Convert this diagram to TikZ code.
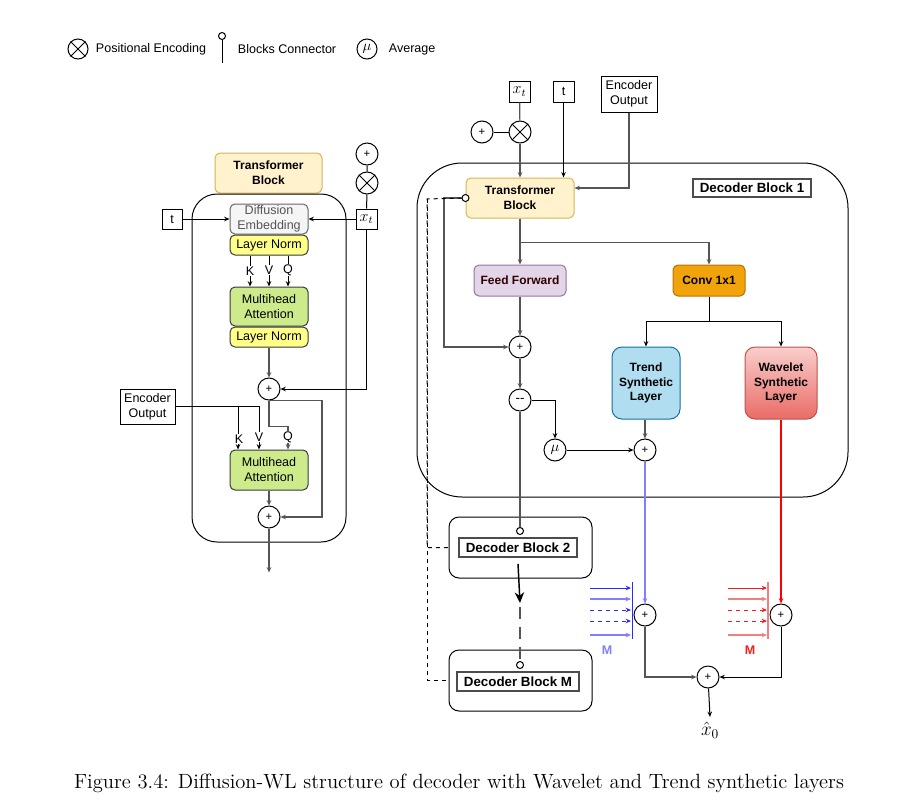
\documentclass[tikz,border=0pt]{standalone}
\usepackage{fontspec}
\setsansfont{Liberation Sans}
\usetikzlibrary{arrows.meta,calc}

\definecolor{tbfill}{HTML}{FFF2CC}
\definecolor{tbline}{HTML}{D6B656}
\definecolor{defill}{HTML}{F5F5F5}
\definecolor{deline}{HTML}{666666}
\definecolor{detext}{HTML}{555555}
\definecolor{lnfill}{HTML}{FFFF88}
\definecolor{mhfill}{HTML}{CDEB8B}
\definecolor{boxline}{HTML}{36393D}
\definecolor{fffill}{HTML}{E1D5E7}
\definecolor{ffline}{HTML}{9673A6}
\definecolor{fftext}{HTML}{330000}
\definecolor{convfill}{HTML}{F0A30A}
\definecolor{convline}{HTML}{BD7000}
\definecolor{trfill}{HTML}{B1DDF0}
\definecolor{trline}{HTML}{10739E}
\definecolor{wavtop}{HTML}{F8CECC}
\definecolor{wavbot}{HTML}{EA6B66}
\definecolor{wavline}{HTML}{B85450}
\definecolor{wire}{HTML}{555555}
\definecolor{blueM}{HTML}{2A2AFF}
\definecolor{lblueM}{HTML}{7F7FFF}
\definecolor{redM}{HTML}{FF1A1A}
\definecolor{lredM}{HTML}{F08080}

\tikzset{
  wh/.style 2 args={minimum width=#1*0.75pt, minimum height=#2*0.75pt},
  arr/.style={-{Stealth[length=4pt,width=3.4pt]}},
  bigarr/.style={-{Stealth[length=8pt,width=7pt]}, line width=1.1pt},
  wired/.style={draw=wire, line width=0.9pt},
  box/.style={draw, rounded corners=3.75pt, inner sep=0.5pt, align=center, line width=0.75pt},
  tbbox/.style={box, fill=tbfill, draw=tbline, font=\sffamily\bfseries\fontsize{9}{11.25}\selectfont},
  debox/.style={box, fill=defill, draw=deline, text=detext},
  lnbox/.style={box, fill=lnfill, draw=boxline},
  mhbox/.style={box, fill=mhfill, draw=boxline},
  ffbox/.style={box, fill=fffill, draw=ffline, text=fftext, font=\sffamily\bfseries\fontsize{9}{11}\selectfont},
  convbox/.style={box, fill=convfill, draw=convline, font=\sffamily\bfseries\fontsize{9}{11}\selectfont},
  trendbox/.style={box, rounded corners=7.5pt, fill=trfill, draw=trline, font=\sffamily\bfseries\fontsize{9}{11}\selectfont},
  wavbox/.style={box, rounded corners=7.5pt, top color=wavtop, bottom color=wavbot, draw=wavline, font=\sffamily\bfseries\fontsize{9}{11}\selectfont},
  inbox/.style={draw, inner sep=0.5pt, align=center, fill=white, line width=0.75pt},
  mathbox/.style={inbox, font=\fontsize{12}{14}\selectfont},
  declabel/.style={draw=black!70, line width=1.2pt, inner sep=0.5pt, fill=white, font=\sffamily\bfseries\fontsize{10}{12}\selectfont},
  outer/.style={draw, rounded corners=7.5pt, line width=0.75pt},
  plus/.style={circle, draw, fill=white, inner sep=0pt, minimum size=16.5pt, line width=0.75pt, font=\sffamily\fontsize{8.5}{9}\selectfont},
  pe/.style={circle, draw, fill=white, inner sep=0pt, minimum size=16.5pt, line width=0.75pt},
  conn/.style={circle, draw, fill=white, inner sep=0pt, minimum size=5.25pt, line width=0.75pt},
  lbl/.style={fill=white, inner sep=0.6pt},
  blueThin/.style={blueM},
  blueThick/.style={lblueM, line width=1.6pt},
  blueDash/.style={blueM, dashed},
  redThin/.style={redM},
  redThick/.style={lredM, line width=1.6pt},
  redDash/.style={redM, dashed},
}

\begin{document}
\begin{tikzpicture}[x=0.75pt,y=-0.75pt, line width=0.75pt,
  font=\sffamily\fontsize{9.4}{11.25}\selectfont]
\useasboundingbox (0,0) rectangle (913,810);

% Legend
\node[pe, minimum size=15pt] (peLeg) at (78,49) {};
\node[anchor=west] (peTxt) at (91,49) {Positional Encoding};
\node[conn] (legConn) at (222,36) {};
\draw (legConn.south) -- ++(0,23);
\node[anchor=west] (connTxt) at (233,49) {Blocks Connector};
\node[pe, minimum size=15pt, font=\fontsize{11}{12}\selectfont] (legMu) at (367,49) {$\mu$};
\node[anchor=west] (muTxt) at (384,49) {Average};

% Transformer block (left)
\node[tbbox, wh={107}{40}] (tbL) at (268.5,173) {Transformer\\Block};
\draw[rounded corners=18.75pt] (192,194) rectangle (346,542);
\node[debox, wh={78}{30}] (de) at (269,219) {Diffusion\\Embedding};
\node[lnbox, wh={78}{20}] (ln1) at (269,245) {Layer Norm};
\node[mhbox, wh={78}{39}] (mh1) at (269,306.5) {Multihead\\Attention};
\node[lnbox, wh={78}{20}] (ln2) at (269,337) {Layer Norm};
\node[plus] (pA) at (269,389) {+};
\node[mhbox, wh={78}{40}] (mh2) at (269,470) {Multihead\\Attention};
\node[plus] (pB) at (269,517) {+};
\node[inbox, wh={20}{20}] (tL) at (172,219) {t};
\node[mathbox, wh={21}{20}] (xtL) at (366.5,219) {$x_t$};
\node[pe] (peL) at (367,183) {};
\node[plus] (plL) at (367,154) {+};
\node[inbox, wh={55}{35}] (encL) at (147.5,406.5) {Encoder\\Output};

% Decoder block 1 (right)
\draw[rounded corners=33.75pt] (417,163) rectangle (848,497);
\node[mathbox, wh={21}{21}] (xtR) at (519.5,91.5) {$x_t$};
\node[inbox, wh={21}{21}] (tR) at (563.5,91.5) {t};
\node[inbox, wh={56}{36}] (encR) at (629,94) {Encoder\\Output};
\node[pe] (peR) at (520,132) {};
\node[plus] (plR) at (482,132) {+};
\node[tbbox, wh={108}{40}] (tbR) at (520,198) {Transformer\\Block};
\node[declabel, wh={118}{18}] (dec1) at (752,188) {Decoder Block 1};
\node[ffbox, wh={92}{31}] (ff) at (520,280.5) {Feed Forward};
\node[convbox, wh={72}{31}] (conv) at (709,280.5) {Conv 1x1};
\node[plus] (pC) at (520,347) {+};
\node[plus, font=\sffamily\fontsize{10}{11}\selectfont] (mn) at (520,400) {-{}-};
\node[plus, font=\fontsize{11}{12}\selectfont] (mu) at (555,450) {$\mu$};
\node[trendbox, wh={68}{72}] (trend) at (646,383) {Trend\\Synthetic\\Layer};
\node[wavbox, wh={72}{72}] (wav) at (781,383) {Wavelet\\Synthetic\\Layer};
\node[plus] (pD) at (645,450) {+};
\node[conn] (c1) at (tbR.west) {};

% Decoder blocks 2 .. M
\node[outer, wh={143}{61}] (blk2) at (520.5,547.5) {};
\node[declabel, wh={118}{19}] (dec2) at (518,547.5) {Decoder Block 2};
\node[conn] (c2) at (520,531) {};
\node[outer, wh={143}{61}] (blkM) at (520.5,680.5) {};
\node[declabel, wh={122}{19}] (decM) at (518,681.5) {Decoder Block M};
\node[conn] (cM) at (520,665) {};
\coordinate (dots) at (520,603);
\coordinate (dashTop) at (427,199);

% Output sums
\node[plus] (p5) at (645,615) {+};
\node[plus] (p6) at (781,615) {+};
\node[plus] (p7) at (708,677) {+};
\node[font=\fontsize{14}{16}\selectfont] (x0) at (710,730) {$\hat{x}_0$};

% Connectors (left)
\draw[arr] (tL) -- (de.west);
\draw[arr] (xtL) -- (de.east);
\draw (plL) -- (peL) -- (xtL);
\draw[arr] (xtL.south) |- (pA.east);
\foreach \dx in {-19,0,19}
  \draw[arr] ([xshift=\dx*0.75pt]ln1.south) -- ([xshift=\dx*0.75pt]mh1.north);
\draw[wired, arr] (ln2) -- (pA);
\draw[arr] (encL.east) -| ([xshift=-31*0.75pt]mh2.north);
\draw[arr] (encL.east) -| ([xshift=-10*0.75pt]mh2.north);
\draw[wired, arr] (pA.south) -- ++(0,26) -| ([xshift=19*0.75pt]mh2.north);
\draw[wired, arr] (pA.south) -- ++(53,0) |- (pB.east);
\draw[wired, arr] (mh2) -- (pB);
\draw[wired, arr] (pB.south) -- ++(0,44);

% Connectors (right)
\draw (plR) -- (peR);
\draw[wired] (xtR) -- (peR);
\draw[wired, arr] (peR) -- (tbR.north -| peR);
\draw[arr] (tR.south) -- (tR.south |- tbR.north);
\draw[wired, arr] (encR.south) |- ([yshift=7.5pt]tbR.east);
\draw[wired, arr] (c1.west) -- ++(-17.5,0) |- (pC.west);
\draw[dashed] (c1.west) -- (dashTop) |- (blk2.west);
\draw[dashed] (dashTop) |- (blkM.west);
\draw[wired, arr] (tbR) -- (ff);
\draw[wired, arr] (tbR.south) -- ++(0,24) -| (conv.north);
\draw[wired, arr] (ff) -- (pC);
\draw[arr] (conv.south) -- ++(0,25) -| (trend.north);
\draw[arr] (conv.south) -- ++(0,25) -| (wav.north);
\draw[wired, arr] (pC) -- (mn);
\draw[arr] (mn.east) -| (mu.north);
\draw[arr] (mu) -- (pD);
\draw[wired, arr] (trend.south -| pD) -- (pD);
\draw[wired] (mn) -- (c2);
\draw[bigarr] ([yshift=-4.5pt]dec2.south) -- (dots);
\draw[wired, line width=1.1pt, dash pattern=on 9pt off 6pt] ([yshift=-3pt]dots) -- (cM.north);
\draw[lblueM, line width=1pt, arr] (pD) -- (p5);
\draw[red, line width=1pt, arr] (wav.south -| p6) -- (p6);
\draw[wired, arr] (p5.south) |- (p7.west);
\draw[arr] (p6.south) |- (p7.east);
\draw[arr] (p7) -- (x0.north);

% Labels
\node[lbl] (kA) at (250,271) {K};
\node[lbl] (vA) at (269,270) {V};
\node[lbl] (qA) at (288,270) {Q};
\node[lbl] (kB) at (239,439) {K};
\node[lbl] (vB) at (259,437) {V};
\node[lbl] (qB) at (288,437) {Q};
\node[font=\sffamily\bfseries\fontsize{9.4}{11}\selectfont, text=lblueM] (mB) at (607,650) {M};
\node[font=\sffamily\bfseries\fontsize{9.4}{11}\selectfont, text=redM] (mR) at (750,650) {M};

% M parallel inputs
\foreach \yy/\sty in {588/blueThin, 599/blueThick, 610/blueDash, 621/blueDash, 635/blueThick}
  \draw[arr, \sty] (590,\yy) -- (631,\yy);
\draw[blueM] (632,582) -- (632,639);
\foreach \yy/\sty in {588/redThin, 599/redThick, 610/redDash, 621/redDash, 635/redThick}
  \draw[arr, \sty] (728,\yy) -- (767,\yy);
\draw[lredM, line width=1.4pt] (768,582) -- (768,639);

% Positional encoding crosses
\foreach \pe in {peLeg, peL, peR} {
  \draw (\pe.north east) -- (\pe.south west) (\pe.north west) -- (\pe.south east);
}

% Caption
\node[font=\rmfamily\fontsize{14.4}{17}\selectfont, scale=1.072] (cap) at (459,783)
  {Figure 3.4: Diffusion-WL structure of decoder with Wavelet and Trend synthetic layers};
\end{tikzpicture}
\end{document}
